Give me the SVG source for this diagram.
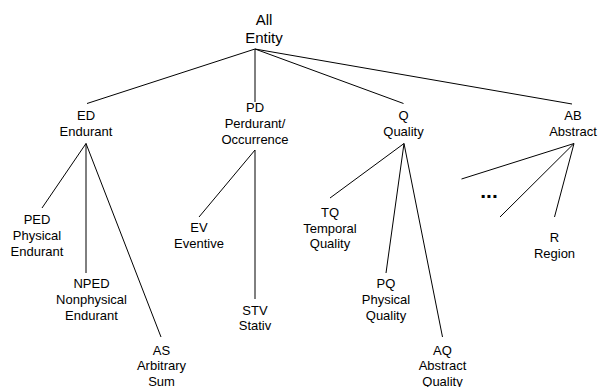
<svg xmlns="http://www.w3.org/2000/svg" width="599" height="387" viewBox="0 0 599 387">
<style>
text{font-family:"Liberation Sans",Arial,sans-serif;font-size:13px;fill:#000;text-anchor:middle}
.root{font-size:15px}
.dots{font-weight:bold;font-size:21px}
#connectors line{stroke:#000;stroke-width:1}
</style>
<rect width="599" height="387" fill="#fff"/>
<g id="connectors">
<line x1="255" y1="49" x2="87" y2="103.5"/>
<line x1="255" y1="49" x2="255" y2="102"/>
<line x1="255" y1="49" x2="403.5" y2="103.5"/>
<line x1="255" y1="49" x2="572" y2="104"/>
<line x1="86" y1="143.5" x2="42" y2="208"/>
<line x1="86" y1="143.5" x2="86" y2="273"/>
<line x1="86" y1="143.5" x2="161" y2="337"/>
<line x1="255" y1="150" x2="199" y2="217"/>
<line x1="255" y1="150" x2="255" y2="299"/>
<line x1="404" y1="143.5" x2="330" y2="198"/>
<line x1="404" y1="143.5" x2="386" y2="273"/>
<line x1="404" y1="143.5" x2="442.5" y2="337"/>
<line x1="574" y1="143.5" x2="461.5" y2="179"/>
<line x1="574" y1="143.5" x2="500" y2="217"/>
<line x1="574" y1="143.5" x2="554.5" y2="217"/>
</g>
<g id="all"><text class="root" x="264" y="25">All</text><text class="root" x="264" y="43">Entity</text></g>
<g id="ed"><text x="86" y="120">ED</text><text x="86" y="136">Endurant</text></g>
<g id="pd"><text x="255" y="111.5">PD</text><text x="255" y="127.5">Perdurant/</text><text x="255" y="143.5">Occurrence</text></g>
<g id="q"><text x="403.5" y="120">Q</text><text x="403.5" y="136">Quality</text></g>
<g id="ab"><text x="573" y="120">AB</text><text x="573" y="136">Abstract</text></g>
<g id="ped"><text x="37" y="224">PED</text><text x="37" y="240">Physical</text><text x="37" y="255.5">Endurant</text></g>
<g id="nped"><text x="91.5" y="288">NPED</text><text x="91.5" y="304">Nonphysical</text><text x="91.5" y="319.5">Endurant</text></g>
<g id="as"><text x="161.5" y="354.5">AS</text><text x="161.5" y="370">Arbitrary</text><text x="161.5" y="385.5">Sum</text></g>
<g id="ev"><text x="199" y="232">EV</text><text x="199" y="247.5">Eventive</text></g>
<g id="stv"><text x="255" y="314.5">STV</text><text x="255" y="330">Stativ</text></g>
<g id="tq"><text x="330" y="216.5">TQ</text><text x="330" y="232.5">Temporal</text><text x="330" y="248">Quality</text></g>
<g id="pq"><text x="386" y="287.5">PQ</text><text x="386" y="304">Physical</text><text x="386" y="319.5">Quality</text></g>
<g id="aq"><text x="442.5" y="354.5">AQ</text><text x="442.5" y="370">Abstract</text><text x="442.5" y="385.5">Quality</text></g>
<g id="dots"><text class="dots" x="489" y="198">...</text></g>
<g id="r"><text x="554.5" y="241.5">R</text><text x="554.5" y="257.5">Region</text></g>
</svg>
